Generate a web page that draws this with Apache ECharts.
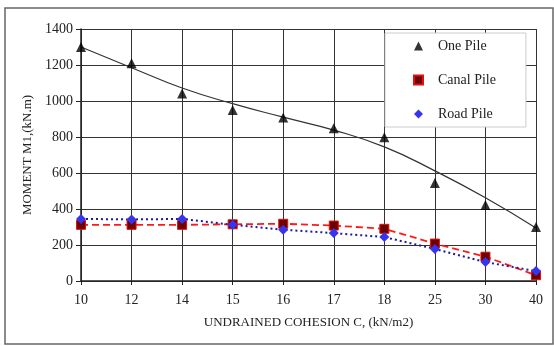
<!DOCTYPE html>
<html>
<head>
<meta charset="utf-8">
<script src="https://cdn.jsdelivr.net/npm/echarts@6/dist/echarts.min.js"></script>
<style>
  html, body { margin: 0; padding: 0; background: #fff; }
  #chart { width: 554px; height: 346px; }
</style>
</head>
<body>
<div id="chart"></div>
<script>
// cohesion values (category axis)
const cohesion = ["10", "12", "14", "15", "16", "17", "18", "25", "30", "40"];

// moment values
const onePile = [1300, 1210, 1042, 950, 908, 848, 798, 545, 422, 300];
const onePileTrend = [1300, 1185, 1072, 985, 910, 838, 745, 612, 462, 294];
const canalPile = [312, 312, 312, 315, 318, 308, 290, 208, 135, 32];
const roadPile = [345, 342, 345, 312, 285, 266, 244, 178, 105, 55];

const chart = echarts.init(document.getElementById("chart"));
const serif = "Liberation Serif";

const option = {
  backgroundColor: "#fff",
  animation: false,
  textStyle: { fontFamily: serif },
  graphic: [
    {
      type: "rect",
      shape: { x: 5, y: 8, width: 548, height: 336 },
      style: { fill: "none", stroke: "#666", lineWidth: 1.5 },
      silent: true,
    },
  ],
  grid: {
    left: 81,
    right: 18,
    top: 29,
    bottom: 65,
  },
  legend: {
    orient: "vertical",
    left: 385,
    top: 33,
    padding: [6, 30, 6, 28],
    itemWidth: 9,
    itemHeight: 9,
    itemGap: 20,
    backgroundColor: "#fff",
    borderColor: "#ccc",
    borderWidth: 1,
    textStyle: { fontFamily: serif, fontSize: 14, color: "#222", padding: [0, 0, 0, 10] },
    data: [
      { name: "One Pile", icon: "triangle", itemStyle: { color: "#000" } },
      { name: "Canal Pile", icon: "rect" },
      { name: "Road Pile", icon: "diamond" },
    ],
  },
  xAxis: {
    type: "category",
    data: cohesion,
    boundaryGap: false,
    name: "UNDRAINED COHESION C, (kN/m2)",
    nameLocation: "middle",
    nameGap: 35,
    nameTextStyle: { fontFamily: serif, fontSize: 13, color: "#222" },
    axisLine: { lineStyle: { color: "#222", width: 1.5 } },
    axisTick: { show: true, inside: false, length: 4, alignWithLabel: true, lineStyle: { color: "#222" } },
    axisLabel: { fontFamily: serif, fontSize: 14, color: "#222", margin: 12 },
    splitLine: { show: true, interval: 0, lineStyle: { color: "#333", width: 1 } },
  },
  yAxis: {
    type: "value",
    min: 0,
    max: 1400,
    interval: 200,
    name: "MOMENT M1,(kN.m)",
    nameLocation: "middle",
    nameGap: 46,
    nameTextStyle: { fontFamily: serif, fontSize: 13, color: "#222" },
    axisLine: { show: true, lineStyle: { color: "#222", width: 1.5 } },
    axisTick: { show: true, inside: false, length: 5, lineStyle: { color: "#222" } },
    axisLabel: {
      fontFamily: serif,
      fontSize: 14,
      color: "#222",
      margin: 8,
      formatter: (value) => String(value),
    },
    splitLine: { show: true, lineStyle: { color: "#333", width: 1 } },
  },
  series: [
    {
      name: "One Pile trend",
      type: "line",
      data: onePileTrend,
      smooth: true,
      showSymbol: false,
      symbol: "none",
      lineStyle: { color: "#333", width: 1.2 },
      z: 2,
    },
    {
      name: "One Pile",
      type: "scatter",
      data: onePile,
      symbol: "triangle",
      symbolSize: 10,
      itemStyle: { color: "#000" },
      z: 5,
    },
    {
      name: "Canal Pile",
      type: "line",
      data: canalPile,
      symbol: "rect",
      symbolSize: 9,
      showAllSymbol: true,
      itemStyle: { color: "#6e0000", borderColor: "#e01010", borderWidth: 1 },
      lineStyle: { color: "#ff1a1a", width: 1.8, type: [7, 4] },
      z: 4,
    },
    {
      name: "Road Pile",
      type: "line",
      data: roadPile,
      symbol: "diamond",
      symbolSize: 10,
      showAllSymbol: true,
      itemStyle: { color: "#3535f0" },
      lineStyle: { color: "#1c1c9a", width: 2, type: [2, 3] },
      z: 4,
    },
  ],
};

chart.setOption(option);
</script>
</body>
</html>
